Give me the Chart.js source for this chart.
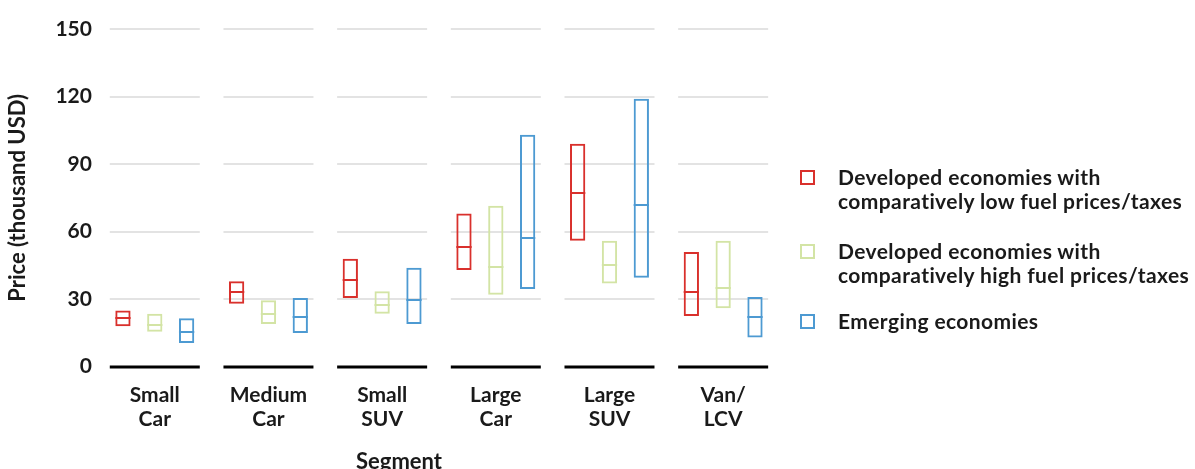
<!DOCTYPE html>
<html>
<head>
<meta charset="utf-8">
<script src="https://cdn.jsdelivr.net/npm/chart.js@4/dist/chart.umd.min.js"></script>
<style>
  html, body { margin: 0; padding: 0; background: #fff; }
  #wrap { position: relative; width: 1195px; height: 469px; }
  #legend { position: absolute; left: 800px; top: 165px; font-family: Lato, sans-serif; font-weight: bold; font-size: 21px; letter-spacing: 0.4px; line-height: 24px; color: #1a1a1a; }
  .item { position: relative; padding-left: 38px; margin-bottom: 26px; }
  .item:nth-child(2) { margin-bottom: 22px; }
  .box { position: absolute; left: 0; top: 5px; width: 11px; height: 11px; border: 2px solid; }
  #xtitle { position: absolute; left: 399px; top: 460px; transform: translate(-50%, -50%); font-family: Lato, sans-serif; font-weight: bold; font-size: 22px; color: #1a1a1a; white-space: nowrap; }
</style>
</head>
<body>
<div id="wrap">
  <canvas id="chart" width="1195" height="469"></canvas>
  <div id="legend"></div>
  <div id="xtitle">Segment</div>
</div>
<script>
// Categories and series (thousand USD): low / median / high
const segments = [['Small', 'Car'], ['Medium', 'Car'], ['Small', 'SUV'], ['Large', 'Car'], ['Large', 'SUV'], ['Van/', 'LCV']];

const lowFuelMin = [18, 28, 30.5, 43, 56, 22.5];
const lowFuelMed = [21.5, 33, 38.5, 53, 77, 33];
const lowFuelMax = [25, 38, 48, 68, 99, 51];

const highFuelMin = [15.5, 19, 23.5, 32, 37, 26];
const highFuelMed = [18.5, 23.5, 27.5, 44.5, 45, 35];
const highFuelMax = [23.5, 29.5, 33.5, 71.5, 56, 56];

const emergingMin = [10.5, 15, 19, 34.5, 39.5, 13];
const emergingMed = [15.5, 22, 29.5, 57, 72, 22];
const emergingMax = [21.5, 30.5, 44, 103, 119, 31];

const yTicks = [0, 30, 60, 90, 120, 150];

const seriesNames = [
  ['Developed economies with', 'comparatively low fuel prices/taxes'],
  ['Developed economies with', 'comparatively high fuel prices/taxes'],
  ['Emerging economies']
];
const colors = ['#d9302c', '#d3e4a5', '#4d9ad2'];
const medians = [lowFuelMed, highFuelMed, emergingMed];

function ranges(mins, maxs) {
  return mins.map((v, i) => [v, maxs[i]]);
}

// Gridlines and baseline broken up per category, plus median marks
const segmentGrid = {
  id: 'segmentGrid',
  beforeDatasetsDraw(chart) {
    const ctx = chart.ctx;
    const x = chart.scales.x;
    const y = chart.scales.y;
    const half = 45;
    ctx.save();
    segments.forEach((s, i) => {
      const cx = x.getPixelForValue(i);
      yTicks.forEach(t => {
        const py = Math.round(y.getPixelForValue(t));
        ctx.beginPath();
        if (t === 0) {
          ctx.strokeStyle = '#000';
          ctx.lineWidth = 3;
        } else {
          ctx.strokeStyle = '#e3e3e3';
          ctx.lineWidth = 2;
        }
        ctx.moveTo(cx - half, py);
        ctx.lineTo(cx + half, py);
        ctx.stroke();
      });
    });
    ctx.restore();
  },
  afterDatasetsDraw(chart) {
    const ctx = chart.ctx;
    const y = chart.scales.y;
    ctx.save();
    chart.data.datasets.forEach((ds, d) => {
      const meta = chart.getDatasetMeta(d);
      meta.data.forEach((bar, i) => {
        const py = Math.round(y.getPixelForValue(medians[d][i]));
        ctx.beginPath();
        ctx.strokeStyle = colors[d];
        ctx.lineWidth = 2;
        ctx.moveTo(bar.x - bar.width / 2, py);
        ctx.lineTo(bar.x + bar.width / 2, py);
        ctx.stroke();
      });
    });
    ctx.restore();
  }
};

const ctx = document.getElementById('chart').getContext('2d');
new Chart(ctx, {
  type: 'bar',
  data: {
    labels: segments,
    datasets: [
      { label: seriesNames[0].join(' '), data: ranges(lowFuelMin, lowFuelMax) },
      { label: seriesNames[1].join(' '), data: ranges(highFuelMin, highFuelMax) },
      { label: seriesNames[2].join(' '), data: ranges(emergingMin, emergingMax) }
    ].map((ds, i) => Object.assign(ds, {
      backgroundColor: 'rgba(255,255,255,0)',
      borderColor: colors[i],
      borderWidth: 2,
      borderSkipped: false,
      categoryPercentage: 0.84,
      barPercentage: 0.48
    }))
  },
  options: {
    responsive: false,
    animation: false,
    layout: { padding: { top: 29, right: 415, left: 1, bottom: 22 } },
    plugins: { legend: { display: false }, tooltip: { enabled: false } },
    scales: {
      x: {
        grid: { display: false, drawTicks: false },
        border: { display: false },
        ticks: { color: '#1a1a1a', padding: 16, font: { family: 'Lato', weight: 'bold', size: 21, lineHeight: 1.15 } }
      },
      y: {
        min: 0,
        max: 150,
        afterBuildTicks: axis => { axis.ticks = yTicks.map(v => ({ value: v })); },
        grid: { display: false, drawTicks: false },
        border: { display: false },
        ticks: { color: '#1a1a1a', padding: 6, font: { family: 'Lato', weight: 'bold', size: 21 } },
        title: { display: true, text: 'Price (thousand USD)', color: '#1a1a1a', padding: { bottom: 18 }, font: { family: 'Lato', weight: 'bold', size: 22 } }
      }
    }
  },
  plugins: [segmentGrid]
});

// HTML legend
const legend = document.getElementById('legend');
seriesNames.forEach((lines, i) => {
  const item = document.createElement('div');
  item.className = 'item';
  const box = document.createElement('span');
  box.className = 'box';
  box.style.borderColor = colors[i];
  item.appendChild(box);
  lines.forEach(line => {
    const row = document.createElement('div');
    row.textContent = line;
    item.appendChild(row);
  });
  legend.appendChild(item);
});
</script>
</body>
</html>
